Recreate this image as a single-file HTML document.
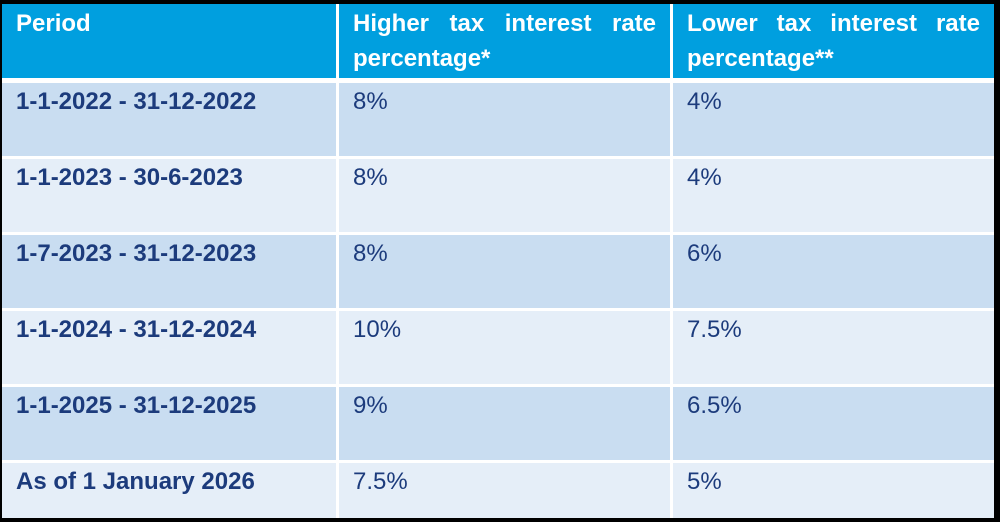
<!DOCTYPE html>
<html><head><meta charset="utf-8"><style>
html,body{margin:0;padding:0;}
body{width:1000px;height:522px;background:#000;position:relative;overflow:hidden;font-family:"Liberation Sans",Arial,sans-serif;}
.frame{position:absolute;left:2px;top:4px;width:992px;height:514px;background:#fff;}
.c{position:absolute;box-sizing:border-box;padding:4px 14px 0 14px;font-size:24px;line-height:30px;color:#1c3b7c;}
.h{background:#009fdf;color:#fff;font-weight:bold;text-align:justify;line-height:35px;padding-top:2px;}
.o{background:#c9ddf1;}
.e{background:#e5eef8;}
.b{font-weight:bold;}
</style></head><body>
<div class="frame"></div>
<div id="t"></div>
<script>
const periods=["1-1-2022 - 31-12-2022","1-1-2023 - 30-6-2023","1-7-2023 - 31-12-2023","1-1-2024 - 31-12-2024","1-1-2025 - 31-12-2025","As of 1 January 2026"];
const higher=["8%","8%","8%","10%","9%","7.5%"];
const lower=["4%","4%","6%","7.5%","6.5%","5%"];
const cols=[[2,334],[339,331],[673,321]];
const t=document.getElementById('t');
function cell(x,w,y,h,cls,txt,name){
  const d=document.createElement('div');
  d.className='c '+cls;
  d.style.left=x+'px';d.style.top=y+'px';d.style.width=w+'px';d.style.height=h+'px';
  d.textContent=txt;
  
  
  t.appendChild(d);
}
const heads=["Period","Higher tax interest rate percentage*","Lower tax interest rate percentage**"];
const hn=["header-period","header-higher-rate","header-lower-rate"];
heads.forEach((s,i)=>cell(cols[i][0],cols[i][1],4,74,'h',s,hn[i]));
for(let r=0;r<periods.length;r++){
  const y=83+r*76;
  const h=r===periods.length-1?518-y:73;
  const bg=r%2===0?'o':'e';
  cell(cols[0][0],cols[0][1],y,h,bg+' b',periods[r],'period-cell');
  cell(cols[1][0],cols[1][1],y,h,bg,higher[r],'higher-rate-cell');
  cell(cols[2][0],cols[2][1],y,h,bg,lower[r],'lower-rate-cell');
}
</script>
</body></html>
